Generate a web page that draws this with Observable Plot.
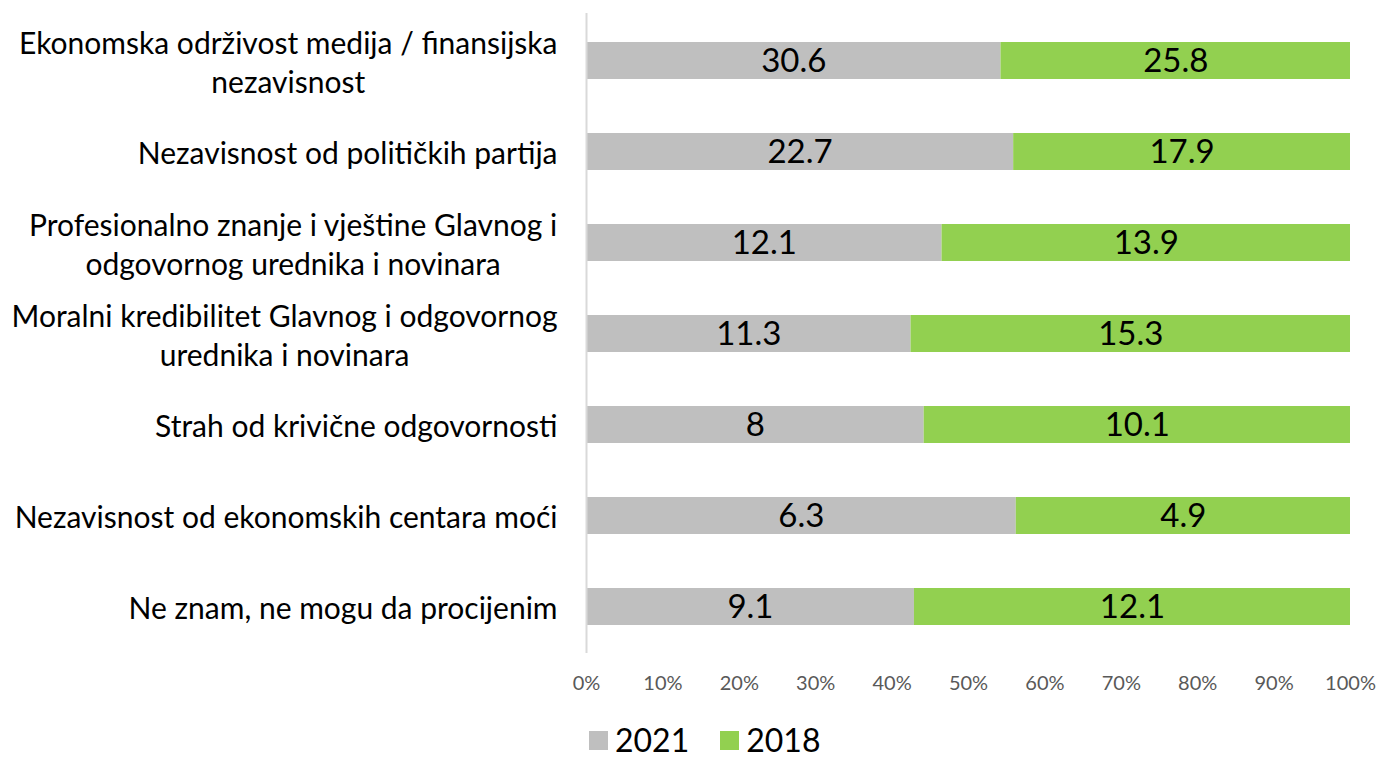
<!DOCTYPE html>
<html><head><meta charset="utf-8">
<script src="https://cdn.jsdelivr.net/npm/d3@7"></script>
<script src="https://cdn.jsdelivr.net/npm/@observablehq/plot@0.6"></script>
<style>
body{margin:0;background:#fff;font-family:Lato,sans-serif;overflow:hidden}
#chart svg{display:block}
#legend{position:absolute;left:589px;top:724px;display:flex;align-items:center;height:32px;line-height:1;font-size:32px;color:#000;font-family:Lato,sans-serif}
.sw{width:19px;height:19px;display:inline-block;margin-right:7px}
.item{display:flex;align-items:center;margin-right:31px}
</style></head><body><div id="chart"></div><div id="legend"></div>
<script>
const categories = [
  "Ekonomska održivost medija / finansijska\nnezavisnost",
  "Nezavisnost od političkih partija",
  "Profesionalno znanje i vještine Glavnog i\nodgovornog urednika i novinara",
  "Moralni kredibilitet Glavnog i odgovornog\nurednika i novinara",
  "Strah od krivične odgovornosti",
  "Nezavisnost od ekonomskih centara moći",
  "Ne znam, ne mogu da procijenim"
];
const years = ["2021", "2018"];
const values2021 = [30.6, 22.7, 12.1, 11.3, 8, 6.3, 9.1];
const values2018 = [25.8, 17.9, 13.9, 15.3, 10.1, 4.9, 12.1];
const xTicks = [0, 0.1, 0.2, 0.3, 0.4, 0.5, 0.6, 0.7, 0.8, 0.9, 1];
const colors = ["#BFBFBF", "#92D050"];

const data = categories.flatMap((c, i) => [
  {cat: c, year: "2021", value: values2021[i]},
  {cat: c, year: "2018", value: values2018[i]}
]);

const labelFont = 30;
const ctx = document.createElement("canvas").getContext("2d");
ctx.font = `${labelFont}px Lato`;
const labelWidth = c => d3.max(c.split("\n"), l => ctx.measureText(l).width);

const labelMarks = categories.map(c => Plot.text([c], {
  y: d => d, text: d => d, frameAnchor: "left", textAnchor: "middle",
  dx: -29 - labelWidth(c) / 2, fontSize: labelFont, lineHeight: 1.3, fill: "#000"
}));

const chart = Plot.plot({
  width: 1381, height: 710,
  marginLeft: 586, marginRight: 31, marginTop: 13, marginBottom: 57,
  style: {fontFamily: "Lato, sans-serif", background: "#fff"},
  x: {domain: [0, 1], axis: null},
  y: {domain: categories, paddingInner: 0.594, paddingOuter: 0.3, axis: null},
  color: {domain: years, range: colors},
  marks: [
    Plot.barX(data, Plot.stackX({x: "value", y: "cat", fill: "year", offset: "normalize", order: null})),
    Plot.text(data, Plot.stackX({x: "value", y: "cat", z: "year", offset: "normalize", order: null,
      text: d => String(d.value), fontSize: 33, fill: "#000"})),
    Plot.ruleX([0], {stroke: "#D9D9D9", strokeWidth: 2}),
    Plot.axisX({ticks: xTicks, tickFormat: d3.format(".0%"), tickSize: 0, tickPadding: 22,
      fontSize: 20, fill: "#595959", label: null}),
    ...labelMarks
  ]
});
document.getElementById("chart").appendChild(chart);

const legend = document.getElementById("legend");
years.forEach((y, i) => {
  const item = document.createElement("div");
  item.className = "item";
  item.innerHTML = `<span class="sw" style="background:${colors[i]}"></span><span>${y}</span>`;
  legend.appendChild(item);
});
</script></body></html>
